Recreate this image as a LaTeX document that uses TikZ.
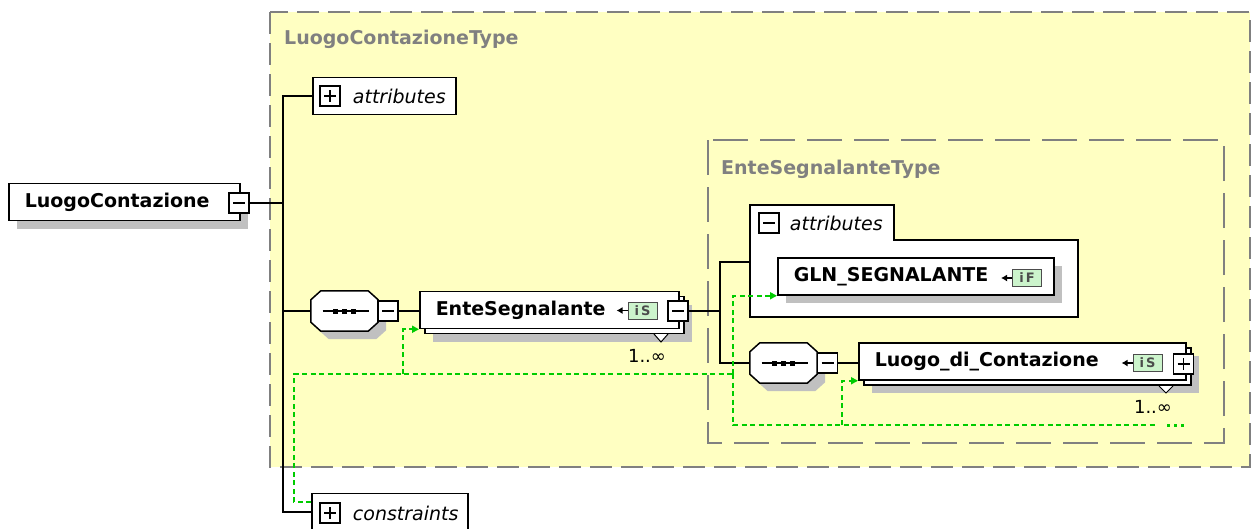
\documentclass[tikz,border=0pt]{standalone}
\usepackage{fontspec}
\setmainfont{DejaVu Sans}
\usetikzlibrary{positioning,shadows,arrows.meta}

\definecolor{grpyellow}{RGB}{255,255,194}
\definecolor{grpgray}{RGB}{128,128,128}
\definecolor{keygreen}{RGB}{0,204,0}
\definecolor{icongreen}{RGB}{204,244,204}
\definecolor{shadowgray}{RGB}{192,192,192}

\begin{document}
\begin{tikzpicture}[x=1pt, y=-1pt]
	\tikzstyle{group} = [draw=grpgray, line width=2pt, fill=grpyellow]
	\tikzstyle{grouptitle} = [anchor=west, inner sep=0, text=grpgray, font=\fontsize{19}{22}\selectfont\bfseries]
	\tikzstyle{element} = [draw, line width=1.5pt, fill=white, anchor=west, minimum height=37, inner xsep=16, inner ysep=0, align=left, font=\fontsize{19}{22}\selectfont\bfseries]
	\tikzstyle{single} = [drop shadow={shadow xshift=8pt, shadow yshift=-8pt, fill=shadowgray, opacity=1}]
	\tikzstyle{multi} = [drop shadow={shadow xshift=13pt, shadow yshift=-13pt, fill=shadowgray, opacity=1}, copy shadow={shadow xshift=5pt, shadow yshift=-5pt, draw=black, fill=white, line width=1.5pt}]
	\tikzstyle{panel} = [draw, line width=1.5pt, fill=white, anchor=west, minimum height=37, inner sep=0]
	\tikzstyle{panellabel} = [inner sep=0, font=\fontsize{19}{22}\selectfont\itshape]
	\tikzstyle{compositor} = [minimum width=67, minimum height=40, inner sep=0]
	\tikzstyle{typeicon} = [draw=black!70, line width=1pt, fill=icongreen, minimum width=29, minimum height=17, inner sep=0, text=black!70, font=\fontsize{13}{13}\selectfont\bfseries]
	\tikzstyle{count} = [inner sep=0, font=\fontsize{18}{20}\selectfont]
	\tikzset{minusbox/.style = {draw, line width=1.5pt, fill=white, minimum size=20, inner sep=0,
		path picture={\draw[line width=1.5pt] ([xshift=4pt]path picture bounding box.west) -- ([xshift=-4pt]path picture bounding box.east);}}}
	\tikzset{plusbox/.style = {draw, line width=1.5pt, fill=white, minimum size=20, inner sep=0,
		path picture={\draw[line width=1.5pt] ([xshift=4pt]path picture bounding box.west) -- ([xshift=-4pt]path picture bounding box.east);
			\draw[line width=1.5pt] ([yshift=-4pt]path picture bounding box.north) -- ([yshift=4pt]path picture bounding box.south);}}}
	\tikzset{link/.style = {line width=1.5pt}}
	\tikzset{keyref/.style = {draw=keygreen, line width=2pt, dash pattern=on 5pt off 3.5pt}}
	\tikzset{keytip/.style = {-{Triangle[length=7pt, width=7pt]}}}
	\tikzset{iconarrow/.style = {line width=1.5pt, -{Latex[length=6pt, width=7pt]}}}

	\useasboundingbox (0,0) rectangle (1253,528);

	\draw[group, dash pattern=on 22pt off 9pt] (270,12) rectangle (1250,467);
	\node[grouptitle](mainType) at (284,39) {LuogoContazioneType};
	\draw[group, dash pattern=on 35pt off 12pt] (708,140) rectangle (1224,443);
	\node[grouptitle](enteType) at (721,169) {EnteSegnalanteType};

	\node[element, single, text width=199](root) at (8,202) {LuogoContazione};
	\node[minusbox](rootpm) at (239,203) {};
	\coordinate (trunk) at (283,203);

	\node[panel, minimum width=143](attrs) at (312,96) {};
	\node[plusbox](attrspm) at (330,96) {};
	\node[panellabel, right=12pt of attrspm](attrslbl) {attributes};

	\node[compositor](seq1) at (344.5,311) {};
	\node[compositor](seq2) at (783.5,363) {};
	\foreach \s in {seq1,seq2} {
		\draw[line width=1.5pt, fill=white, single]
			([xshift=10pt]\s.north west) -- ([xshift=-10pt]\s.north east) -- ([yshift=-9pt]\s.north east)
			-- ([yshift=9pt]\s.south east) -- ([xshift=-10pt]\s.south east) -- ([xshift=10pt]\s.south west)
			-- ([yshift=9pt]\s.south west) -- ([yshift=-9pt]\s.north west) -- cycle;
		\draw[line width=1.5pt] ([xshift=-22pt]\s.center) -- ([xshift=24pt]\s.center);
		\foreach \d in {-9,0,9}
			\fill ([xshift=\d pt]\s.center) ++(-2.5,-2.5) rectangle ++(5,5);
	}

	\node[minusbox](seq1pm) at (388,311) {};
	\node[element, multi, text width=227](ente) at (419,310) {EnteSegnalante};
	\node[typeicon](enteic) at (642.5,310.5) {i\,S};
	\node[minusbox](entepm) at (678,311) {};
	\draw[line width=1pt, fill=white] (654,334) -- (661,342) -- (668,334);
	\node[count](entecount) at (647,356) {1..∞};

	\draw[line width=1.5pt, fill=white] (750,205) -- (894,205) -- (894,240) -- (1078,240) -- (1078,317) -- (750,317) -- cycle;
	\node[minusbox](attr2pm) at (769,223) {};
	\node[panellabel, right=10pt of attr2pm](attr2lbl) {attributes};
	\coordinate (attr2) at (750,262);
	\node[element, single, text width=244](gln) at (777,276.5) {GLN\_SEGNALANTE};
	\node[typeicon](glnic) at (1027,278) {i\,F};

	\node[minusbox](seq2pm) at (827.5,363) {};
	\node[element, multi, text width=295](luogo) at (858,361.5) {Luogo\_di\_Contazione};
	\node[typeicon](luogoic) at (1147.5,363) {i\,S};
	\node[plusbox](luogopm) at (1183.5,364) {};
	\draw[line width=1pt, fill=white] (1159,386) -- (1166,393) -- (1173,386);
	\node[count](luogocount) at (1153,407) {1..∞};

	\node[panel, minimum width=156](cons) at (311,512) {};
	\node[plusbox](conspm) at (330,513) {};
	\node[panellabel, right=12pt of conspm](conslbl) {constraints};

	\foreach \ic in {enteic,glnic,luogoic}
		\draw[iconarrow] (\ic.west) -- ++(-11,0);

	\draw[link] (rootpm) -- (trunk);
	\draw[link] (attrs.west) -| (trunk) |- (cons.west);
	\draw[link] (seq1.west) -- (seq1.west -| trunk);
	\draw[link] (seq1pm.east) -- (seq1pm.east -| ente.west);
	\coordinate (entebranch) at (720,311);
	\draw[link] (entepm) -- (entebranch);
	\draw[link] (attr2) -| (entebranch) |- (seq2.west);
	\draw[link] (seq2pm.east) -- (seq2pm.east -| luogo.west);

	\coordinate (kleft) at (294,374);
	\coordinate (kente) at (403,374);
	\coordinate (kbus) at (733,374);
	\coordinate (kluogo) at (842,425);
	\coordinate (kend) at (1155,425);
	\draw[keyref] ([yshift=10pt]cons.west) -| (kleft) -- (kbus);
	\draw[keyref, keytip] (kente) |- (ente.south west);
	\draw[keyref, keytip] (kbus) |- (gln.south west);
	\draw[keyref] (kbus) |- (kend);
	\draw[keyref, keytip] (kluogo) |- (luogo.south west);
	\draw[keygreen, line width=3pt, dash pattern=on 3pt off 4pt] ([xshift=12pt]kend) -- ++(20,0);
\end{tikzpicture}
\end{document}
